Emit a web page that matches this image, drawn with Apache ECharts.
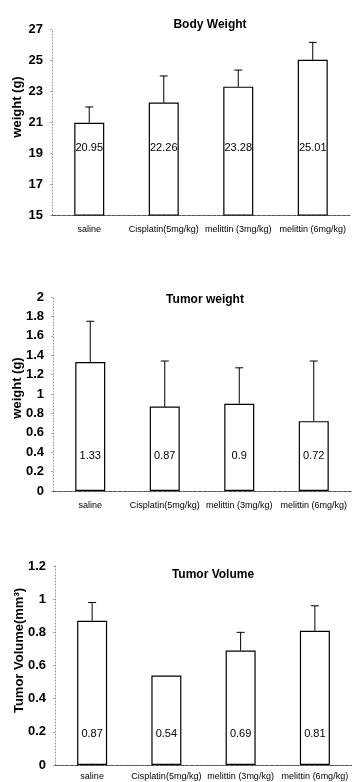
<!DOCTYPE html>
<html>
<head>
<meta charset="utf-8">
<script src="https://cdn.jsdelivr.net/npm/echarts@6/dist/echarts.min.js"></script>
<style>
  html, body { margin: 0; padding: 0; background: #fff; }
  #chart { width: 352px; height: 782px; }
</style>
</head>
<body>
<div id="chart"></div>
<script>
  // groups on the x axis (same for all three panels)
  let categories = ['saline', 'Cisplatin(5mg/kg)', 'melittin (3mg/kg)', 'melittin (6mg/kg)'];

  // body weight (g)
  let bodyWeight = [20.95, 22.26, 23.28, 25.01];
  let bodyWeightSd = [1.02, 1.71, 1.07, 1.13];

  // tumor weight (g)
  let tumorWeight = [1.33, 0.87, 0.9, 0.72];
  let tumorWeightSd = [0.42, 0.47, 0.37, 0.62];

  // tumor volume (mm3)
  let tumorVolume = [0.87, 0.54, 0.69, 0.81];
  let tumorVolumeSd = [0.11, 0, 0.11, 0.15];

  let arial = "'Liberation Sans', Arial, sans-serif";

  let panels = [
    {title: 'Body Weight', titleX: 205, titleY: 14, name: 'weight (g)', namePad: 30, nameGap: 28,
      grid: {left: 52, top: 29, width: 298, height: 186}, labelMargin: 10,
      min: 15, max: 27, interval: 2, values: bodyWeight, sd: bodyWeightSd, labelDist: 62},
    {title: 'Tumor weight', titleX: 200, titleY: 289, name: 'weight (g)', namePad: 12, nameGap: 29,
      grid: {left: 53, top: 297, width: 298, height: 194}, labelMargin: 10,
      min: 0, max: 2, interval: 0.2, values: tumorWeight, sd: tumorWeightSd, labelDist: 30},
    {title: 'Tumor Volume', titleX: 208, titleY: 564, name: 'Tumor Volume(mm³)', namePad: 30, nameGap: 29,
      grid: {left: 55, top: 566, width: 297, height: 199}, labelMargin: 7,
      min: 0, max: 1.2, interval: 0.2, values: tumorVolume, sd: tumorVolumeSd, labelDist: 26}
  ];

  let myChart = echarts.init(document.getElementById('chart'));

  let option = {
    backgroundColor: '#fff',
    animation: false,
    title: [],
    grid: [],
    xAxis: [],
    yAxis: [],
    series: []
  };

  panels.forEach(function (p, i) {
    option.title.push({
      text: p.title,
      left: p.titleX,
      top: p.titleY,
      textAlign: 'center',
      textStyle: {fontFamily: arial, fontSize: 12, fontWeight: 'bold', color: '#000'}
    });
    option.grid.push(Object.assign({outerBoundsMode: 'none', containLabel: false}, p.grid));
    option.xAxis.push({
      type: 'category',
      gridIndex: i,
      data: categories,
      axisTick: {show: false},
      axisLine: {lineStyle: {color: '#555', width: 1, type: [4, 1]}},
      axisLabel: {fontFamily: arial, fontSize: 9, color: '#000', margin: p.labelMargin, interval: 0}
    });
    option.yAxis.push({
      type: 'value',
      gridIndex: i,
      min: p.min,
      max: p.max,
      interval: p.interval,
      name: p.name,
      nameLocation: 'middle',
      nameGap: p.nameGap,
      nameMoveOverlap: false,
      nameTextStyle: {fontFamily: arial, fontSize: 13, fontWeight: 'bold', color: '#000', padding: [0, 0, 0, p.namePad]},
      splitLine: {show: false},
      axisLine: {show: true, lineStyle: {color: '#999', width: 1, type: [1, 2]}},
      axisTick: {show: true, length: 2, lineStyle: {color: '#aaa'}},
      axisLabel: {fontFamily: arial, fontSize: 13, fontWeight: 'bold', color: '#000', margin: 9}
    });
    option.series.push({
      type: 'bar',
      xAxisIndex: i,
      yAxisIndex: i,
      data: p.values,
      barWidth: 30,
      itemStyle: {color: '#fff', borderColor: '#000', borderWidth: 1.2},
      label: {
        show: true,
        position: 'insideBottom',
        distance: p.labelDist,
        fontFamily: arial,
        fontSize: 11,
        color: '#000'
      },
      z: 2
    });
    let sdList = p.sd;
    option.series.push({
      type: 'custom',
      xAxisIndex: i,
      yAxisIndex: i,
      data: p.values.map(function (v, k) { return [k, v, v + sdList[k]]; }),
      renderItem: function (params, api) {
        let base = api.coord([api.value(0), api.value(1)]);
        let top = api.coord([api.value(0), api.value(2)]);
        if (api.value(2) <= api.value(1)) return null;
        return {
          type: 'group',
          children: [
            {type: 'line', shape: {x1: base[0], y1: base[1], x2: top[0], y2: top[1]},
              style: {stroke: '#000', lineWidth: 1}},
            {type: 'line', shape: {x1: top[0] - 4, y1: top[1], x2: top[0] + 4, y2: top[1]},
              style: {stroke: '#000', lineWidth: 1}}
          ]
        };
      },
      z: 3
    });
  });

  myChart.setOption(option);
</script>
</body>
</html>
